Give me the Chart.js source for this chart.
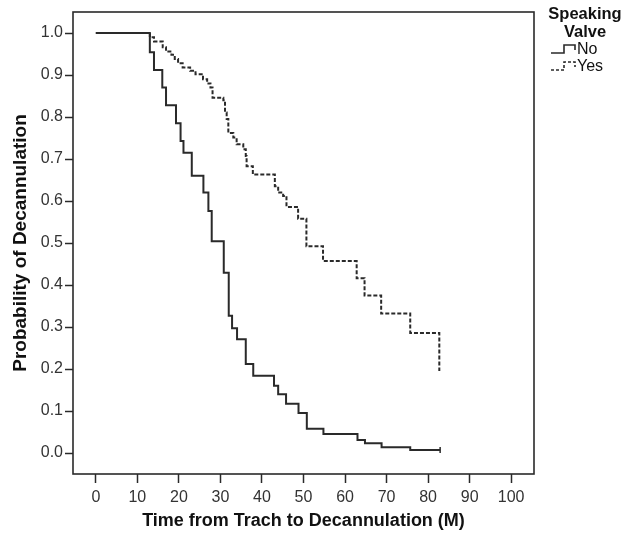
<!DOCTYPE html>
<html>
<head>
<meta charset="utf-8">
<script src="https://cdn.jsdelivr.net/npm/chart.js@4.4.1/dist/chart.umd.min.js"></script>
<style>
  html, body { margin: 0; padding: 0; background: #fff; }
  #wrap { width: 625px; height: 535px; position: relative; }
</style>
</head>
<body>
<div id="wrap"><canvas id="c" width="625" height="535"></canvas></div>
<script>
// ---- Data ----
const seriesNames = ["No", "Yes"];
const noTimes = [0, 13.0, 14.0, 16.0, 16.9, 19.3, 20.4, 21.1, 23.1, 25.9, 27.1, 27.9, 30.8, 32.0, 32.8, 34.0, 36.1, 37.9, 42.9, 43.9, 45.8, 48.8, 50.8, 54.8, 63.0, 64.8, 68.8, 75.7, 82.9];
const noSurv  = [1.0, 0.954, 0.912, 0.870, 0.828, 0.785, 0.743, 0.715, 0.660, 0.620, 0.576, 0.504, 0.429, 0.327, 0.297, 0.271, 0.212, 0.184, 0.160, 0.140, 0.117, 0.095, 0.058, 0.045, 0.031, 0.023, 0.0135, 0.007, 0.007];
const yesTimes = [0, 13.0, 14.0, 16.1, 16.9, 18.2, 19.0, 19.8, 20.9, 22.7, 24.0, 25.8, 26.8, 27.6, 28.1, 30.7, 31.1, 31.5, 31.9, 33.1, 33.9, 35.5, 36.1, 36.3, 37.8, 43.1, 43.9, 45.1, 45.9, 48.7, 50.7, 54.7, 62.8, 64.7, 68.7, 75.7, 82.7];
const yesSurv  = [1.0, 0.990, 0.980, 0.966, 0.956, 0.948, 0.938, 0.928, 0.918, 0.910, 0.902, 0.890, 0.880, 0.870, 0.846, 0.840, 0.811, 0.795, 0.762, 0.751, 0.735, 0.723, 0.707, 0.683, 0.663, 0.635, 0.620, 0.612, 0.586, 0.558, 0.492, 0.457, 0.416, 0.375, 0.332, 0.286, 0.195];
const xTickValues = [0, 10, 20, 30, 40, 50, 60, 70, 80, 90, 100];
const yTickValues = [0.0, 0.1, 0.2, 0.3, 0.4, 0.5, 0.6, 0.7, 0.8, 0.9, 1.0];
const xTitle = "Time from Trach to Decannulation (M)";
const yTitle = "Probability of Decannulation";
const legendTitle = ["Speaking", "Valve"];

const FONT = "'Liberation Sans', Arial, Helvetica, sans-serif";
const INK = '#2a2a2a';

const toPts = (t, s) => t.map((v, i) => ({x: v, y: s[i]}));

const framePlugin = {
  id: 'frame',
  afterDatasetsDraw(chart) {
    const {ctx, chartArea: a} = chart;
    ctx.save();
    ctx.strokeStyle = INK;
    ctx.lineWidth = 1.6;
    ctx.strokeRect(a.left, a.top, a.right - a.left, a.bottom - a.top);
    ctx.restore();
  }
};

const legendPlugin = {
  id: 'kmLegend',
  afterDraw(chart) {
    const ctx = chart.ctx;
    ctx.save();
    ctx.fillStyle = '#111';
    ctx.textAlign = 'center';
    ctx.textBaseline = 'middle';
    ctx.font = "bold 16.5px " + FONT;
    ctx.fillText(legendTitle[0], 585, 14);
    ctx.fillText(legendTitle[1], 585, 32);
    ctx.font = "16px " + FONT;
    ctx.textAlign = 'left';
    const rows = [{y: 49, dash: []}, {y: 66, dash: [3, 2]}];
    rows.forEach((r, i) => {
      ctx.strokeStyle = INK;
      ctx.lineWidth = 1.6;
      ctx.setLineDash(r.dash);
      ctx.beginPath();
      ctx.moveTo(551, r.y + 4);
      ctx.lineTo(564, r.y + 4);
      ctx.lineTo(564, r.y - 4);
      ctx.lineTo(575, r.y - 4);
      ctx.lineTo(575, r.y + 1);
      ctx.stroke();
      ctx.setLineDash([]);
      ctx.fillStyle = '#111';
      ctx.fillText(seriesNames[i], 577, r.y + 1);
    });
    ctx.restore();
  }
};

new Chart(document.getElementById('c'), {
  type: 'line',
  data: {
    datasets: [
      {
        label: seriesNames[0],
        data: toPts(noTimes, noSurv),
        borderColor: INK,
        borderWidth: 2,
        stepped: 'before',
        pointRadius: (c) => c.dataIndex === noTimes.length - 1 ? 3 : 0,
        pointStyle: 'line',
        rotation: 90,
        pointBorderColor: INK,
        pointBorderWidth: 1.5,
        fill: false
      },
      {
        label: seriesNames[1],
        data: toPts(yesTimes, yesSurv),
        borderColor: INK,
        borderWidth: 2,
        borderDash: [4, 2],
        stepped: 'before',
        pointRadius: 0,
        fill: false
      }
    ]
  },
  options: {
    responsive: false,
    animation: false,
    layout: { padding: { left: 0, top: 12, right: 91, bottom: 0 } },
    plugins: { legend: { display: false }, tooltip: { enabled: false } },
    scales: {
      x: {
        type: 'linear',
        min: -5.5, max: 105.5,
        afterBuildTicks: (s) => { s.ticks = xTickValues.map(v => ({value: v})); },
        afterFit: (s) => { s.height = 61; },
        border: { display: false },
        grid: { drawOnChartArea: false, drawTicks: true, tickLength: 9, color: INK, tickWidth: 1.5 },
        ticks: { padding: 5, color: '#333', font: { family: FONT, size: 16 }, maxRotation: 0,
                 callback: (v) => String(v) },
        title: { display: true, text: xTitle, color: '#111', font: { family: FONT, size: 18, weight: 'bold' },
                 padding: { top: 0, bottom: 3 } }
      },
      y: {
        min: -0.05, max: 1.05,
        afterBuildTicks: (s) => { s.ticks = yTickValues.map(v => ({value: v})); },
        afterFit: (s) => { s.width = 73; },
        border: { display: false },
        grid: { drawOnChartArea: false, drawTicks: true, tickLength: 8, color: INK, tickWidth: 1.5 },
        ticks: { padding: 2, color: '#333', font: { family: FONT, size: 16 },
                 callback: (v) => Number(v).toFixed(1) },
        title: { display: true, text: yTitle, color: '#111', font: { family: FONT, size: 19, weight: 'bold' },
                 padding: { top: 9, bottom: 0 } }
      }
    }
  },
  plugins: [framePlugin, legendPlugin]
});
</script>
</body>
</html>
